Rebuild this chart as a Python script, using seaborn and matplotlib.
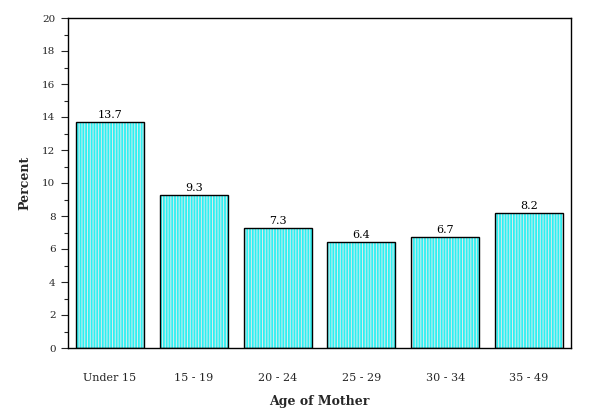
import matplotlib
matplotlib.use("Agg")
import matplotlib.pyplot as plt
import seaborn as sns
import pandas as pd
from matplotlib.ticker import MultipleLocator

categories = ["Under 15", "15 - 19", "20 - 24", "25 - 29", "30 - 34", "35 - 49"]
percent = [13.7, 9.3, 7.3, 6.4, 6.7, 8.2]
value_labels = ["13.7", "9.3", "7.3", "6.4", "6.7", "8.2"]

df = pd.DataFrame({"age": categories, "pct": percent})

sns.set_theme(style="white")
plt.rcParams["font.family"] = ["DejaVu Serif"]
plt.rcParams["hatch.linewidth"] = 0.7

fig = plt.figure(figsize=(6.12, 4.08), dpi=100)
ax = fig.add_axes([68/612, 1-348/408, (571-68)/612, (348-18)/408])

sns.barplot(data=df, x="age", y="pct", color="#2ef0f2", width=0.81,
            saturation=1, edgecolor="#dcecec", linewidth=0, hatch="||||||", ax=ax)
sns.barplot(data=df, x="age", y="pct", fill=False, width=0.81,
            edgecolor="black", linewidth=1.0, ax=ax)

for i, (v, lab) in enumerate(zip(percent, value_labels)):
    ax.text(i, v + 0.12, lab, ha="center", va="bottom", fontsize=8, color="black")

ax.set_xlim(-0.5, 5.5)
ax.set_ylim(0, 20)
ax.yaxis.set_major_locator(MultipleLocator(2))
ax.yaxis.set_minor_locator(MultipleLocator(1))
ax.tick_params(axis="y", which="major", direction="out", length=5, width=0.8,
               left=True, labelsize=7.5, pad=4)
ax.tick_params(axis="y", which="minor", direction="out", length=3, width=0.8, left=True)
ax.tick_params(axis="x", bottom=False, labelsize=8, pad=12)
for s in ax.spines.values():
    s.set_visible(True)
    s.set_color("black")
    s.set_linewidth(1.0)

ax.set_ylabel("Percent", fontsize=9, fontweight="bold", labelpad=8)
ax.set_xlabel("Age of Mother", fontsize=9, fontweight="bold", labelpad=9)

fig.savefig("out.png", dpi=100)
